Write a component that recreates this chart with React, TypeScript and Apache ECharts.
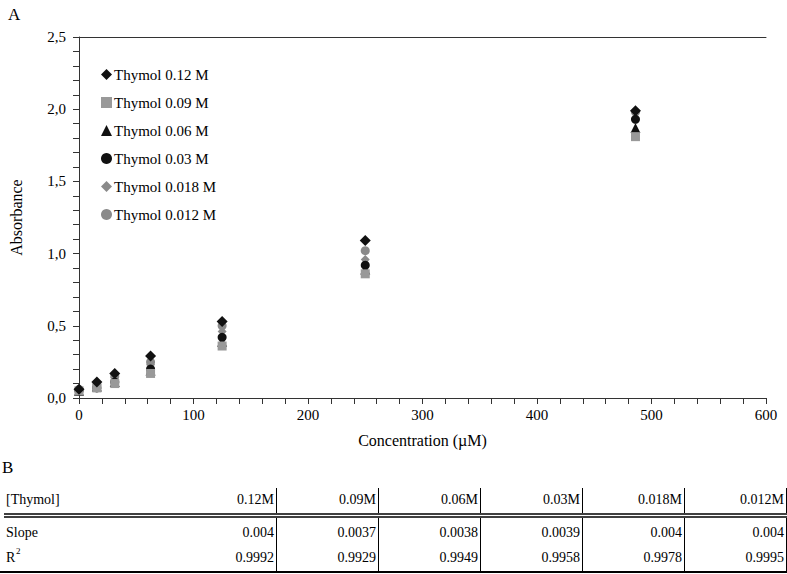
import React, { useEffect, useRef } from "react";
import * as echarts from "echarts";

const concentrations = [0, 15.6, 31.25, 62.5, 125, 250, 486];
const seriesNames = [
  "Thymol 0.12 M",
  "Thymol 0.09 M",
  "Thymol 0.06 M",
  "Thymol 0.03 M",
  "Thymol 0.018 M",
  "Thymol 0.012 M",
];
const abs012 = [0.06, 0.11, 0.17, 0.29, 0.53, 1.09, 1.99];
const abs009 = [0.05, 0.07, 0.10, 0.17, 0.36, 0.86, 1.81];
const abs006 = [0.05, 0.08, 0.11, 0.19, 0.39, 0.89, 1.87];
const abs003 = [0.05, 0.07, 0.11, 0.20, 0.42, 0.92, 1.93];
const abs0018 = [0.06, 0.08, 0.14, 0.23, 0.46, 0.96, 1.98];
const abs0012 = [0.06, 0.09, 0.15, 0.25, 0.50, 1.02, 1.98];

const tableHeader = "[Thymol]";
const tableColumns = ["0.12M", "0.09M", "0.06M", "0.03M", "0.018M", "0.012M"];
const slopes = ["0.004", "0.0037", "0.0038", "0.0039", "0.004", "0.004"];
const rSquared = ["0.9992", "0.9929", "0.9949", "0.9958", "0.9978", "0.9995"];

const FONT = "'Liberation Serif', 'Times New Roman', serif";

export default function App() {
  const ref = useRef<HTMLDivElement>(null);
  useEffect(() => {
    const chart = echarts.init(ref.current!, null, { renderer: "svg" });
    const allY = [abs012, abs009, abs006, abs003, abs0018, abs0012];
    const styles = [
      { symbol: "diamond", size: 11, color: "#111111" },
      { symbol: "rect", size: 9, color: "#999999" },
      { symbol: "triangle", size: 10, color: "#111111" },
      { symbol: "circle", size: 9, color: "#111111" },
      { symbol: "diamond", size: 9, color: "#8a8a8a" },
      { symbol: "circle", size: 9, color: "#8a8a8a" },
    ];
    const series = seriesNames.map((name, i) => ({
      name,
      type: "scatter",
      symbol: styles[i].symbol,
      symbolSize: styles[i].size,
      itemStyle: { color: styles[i].color, opacity: 1 },
      data: concentrations.map((x, j) => [x, allY[i][j]]),
      z: 10 - i,
    }));

    const colEdges = [276, 378, 480, 582, 684, 786];
    const headerY = 499;
    const slopeY = 532;
    const r2Y = 557;
    const ts = (text: string, align: string, size = 14) => ({
      text,
      fill: "#000",
      fontFamily: FONT,
      fontSize: size,
      textAlign: align,
      textVerticalAlign: "middle",
    });
    const graphics: any[] = [];
    graphics.push({ type: "text", x: 8, y: 14, style: ts("A", "left", 17) });
    graphics.push({ type: "text", x: 2, y: 467, style: ts("B", "left", 17) });
    graphics.push({ type: "text", x: 6, y: headerY, style: ts(tableHeader, "left") });
    graphics.push({ type: "text", x: 6, y: slopeY, style: ts("Slope", "left") });
    graphics.push({ type: "text", x: 6, y: r2Y, style: ts("R", "left") });
    graphics.push({ type: "text", x: 16, y: r2Y - 6, style: ts("2", "left", 9) });
    tableColumns.forEach((c, i) => {
      const xr = colEdges[i] - 2;
      graphics.push({ type: "text", x: xr, y: headerY, style: ts(c, "right") });
      graphics.push({ type: "text", x: xr, y: slopeY, style: ts(slopes[i], "right") });
      graphics.push({ type: "text", x: xr, y: r2Y, style: ts(rSquared[i], "right") });
      graphics.push({ type: "line", shape: { x1: colEdges[i] + 0.5, y1: 488, x2: colEdges[i] + 0.5, y2: 513 }, style: { stroke: "#000", lineWidth: 1 } });
      graphics.push({ type: "line", shape: { x1: colEdges[i] + 0.5, y1: 518, x2: colEdges[i] + 0.5, y2: 571 }, style: { stroke: "#000", lineWidth: 1 } });
    });
    graphics.push({ type: "line", shape: { x1: 4, y1: 514, x2: 787, y2: 514 }, style: { stroke: "#000", lineWidth: 1.5 } });
    graphics.push({ type: "line", shape: { x1: 4, y1: 517, x2: 787, y2: 517 }, style: { stroke: "#000", lineWidth: 1.5 } });
    graphics.push({ type: "line", shape: { x1: 0, y1: 572, x2: 787, y2: 572 }, style: { stroke: "#000", lineWidth: 2 } });

    const axisCommon = {
      axisLine: { show: true, lineStyle: { color: "#333", width: 1 } },
      axisTick: { show: true, inside: false, length: 6, lineStyle: { color: "#333" } },
      minorTick: { show: true, splitNumber: 5, length: 6, lineStyle: { color: "#333" } },
      splitLine: { show: false },
      axisLabel: { color: "#000", fontFamily: FONT, fontSize: 15 },
      nameTextStyle: { color: "#000", fontFamily: FONT, fontSize: 16 },
    };

    chart.setOption({
      animation: false,
      backgroundColor: "#fff",
      grid: { left: 73, top: 37, right: 21, bottom: 176, containLabel: false },
      legend: {
        orient: "vertical",
        left: 96,
        top: 62,
        itemGap: 13,
        itemWidth: 11,
        itemHeight: 11,
        textStyle: { color: "#000", fontFamily: FONT, fontSize: 15, padding: [0, 0, 0, -3] },
        data: seriesNames,
      },
      xAxis: [
        {
          ...axisCommon,
          type: "value",
          min: 0,
          max: 600,
          interval: 100,
          name: "Concentration (µM)",
          nameLocation: "middle",
          nameGap: 34,
          axisLabel: { ...axisCommon.axisLabel, margin: 9 },
        },
        {
          type: "value",
          position: "top",
          min: 0,
          max: 600,
          axisLine: { show: true, lineStyle: { color: "#333", width: 1 } },
          axisTick: { show: false },
          axisLabel: { show: false },
          splitLine: { show: false },
        },
      ],
      yAxis: {
        ...axisCommon,
        type: "value",
        min: 0,
        max: 2.5,
        interval: 0.5,
        name: "Absorbance",
        nameLocation: "middle",
        nameGap: 55,
        axisLabel: {
          ...axisCommon.axisLabel,
          margin: 13,
          formatter: (v: number) => v.toFixed(1).replace(".", ","),
        },
      },
      series,
      graphic: graphics,
    });
    return () => chart.dispose();
  }, []);
  return (
    <div
      ref={ref}
      style={{ position: "absolute", left: 0, top: 0, width: 787, height: 574, background: "#fff" }}
    />
  );
}
